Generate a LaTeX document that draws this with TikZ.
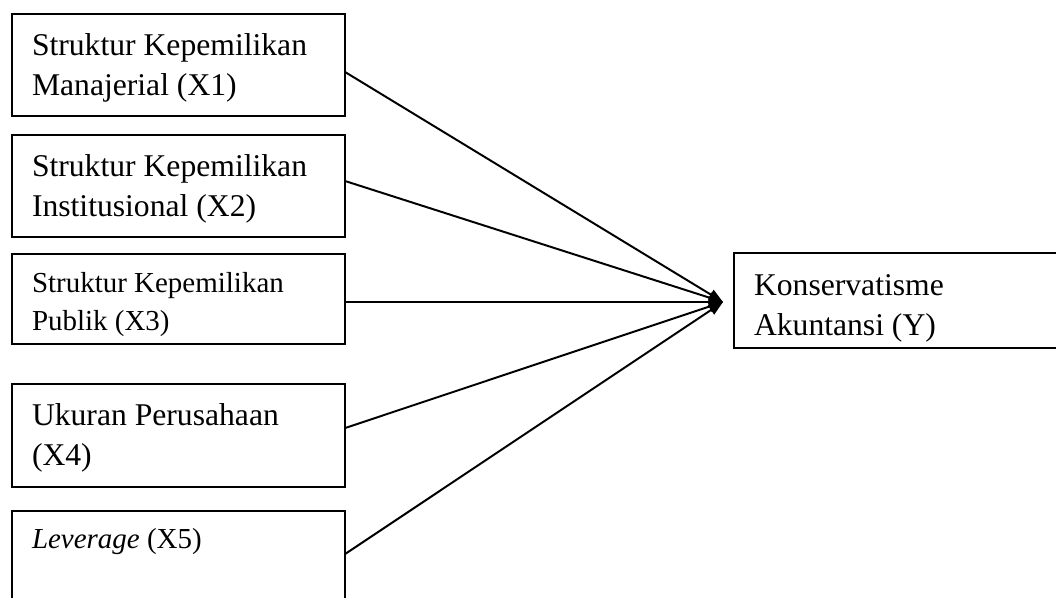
\documentclass[tikz,border=0pt]{standalone}
\usepackage{fontspec}
\setmainfont{Liberation Serif}
\usetikzlibrary{calc,arrows.meta}
\newcommand{\bigtxt}{\fontsize{22.5pt}{1cm}\selectfont}
\newcommand{\smalltxt}{\fontsize{20.6pt}{0.95cm}\selectfont}
\newcommand{\boxtxt}[4]{\parbox[c][#1][t]{7.325cm}{#3\raggedright\rule{0pt}{#2}#4}}
\tikzset{
	varbox/.style={draw, line width=1.4pt, anchor=north west, inner xsep=0.5cm, inner ysep=0pt, outer sep=0pt},
	link/.style={line width=1.4pt, -{Triangle[length=0.36cm, width=0.27cm]}}
}

\begin{document}
\begin{tikzpicture}[x=0.025cm, y=-0.025cm]
			%%%%% START %%%%%
			\useasboundingbox (0,0) rectangle (1056,597);
			
			\node[varbox] (x1) at (12,14) {\boxtxt{2.55cm}{1.025cm}{\bigtxt}{Struktur Kepemilikan\\Manajerial (X1)}};
			\node[varbox] (x2) at (12,135) {\boxtxt{2.55cm}{1.025cm}{\bigtxt}{Struktur Kepemilikan\\Institusional (X2)}};
			\node[varbox] (x3) at (12,254) {\boxtxt{2.25cm}{0.95cm}{\smalltxt}{Struktur Kepemilikan\\Publik (X3)}};
			\node[varbox] (x4) at (12,384) {\boxtxt{2.575cm}{1.025cm}{\bigtxt}{Ukuran Perusahaan\\(X4)}};
			\node[varbox] (x5) at (12,511) {\boxtxt{2.55cm}{0.925cm}{\smalltxt}{\textit{Leverage} (X5)}};
			
			\node[varbox] (y) at (734,253) {\boxtxt{2.375cm}{1.05cm}{\bigtxt}{Konservatisme\\Akuntansi (Y)}};
			
			\coordinate (tip) at ($(y.west)+(-11,1.5)$);
			
			\draw[link] ($(x1.east)+(0,7)$) -- (tip);
			\draw[link] ($(x2.east)+(0,-5)$) -- (tip);
			\draw[link] ($(x3.east)+(0,3)$) -- (tip);
			\draw[link] ($(x4.east)+(0,-7.5)$) -- (tip);
			\draw[link] ($(x5.east)+(0,-8)$) -- (tip);
			
			%%%%% END %%%%%
\end{tikzpicture}
\end{document}
